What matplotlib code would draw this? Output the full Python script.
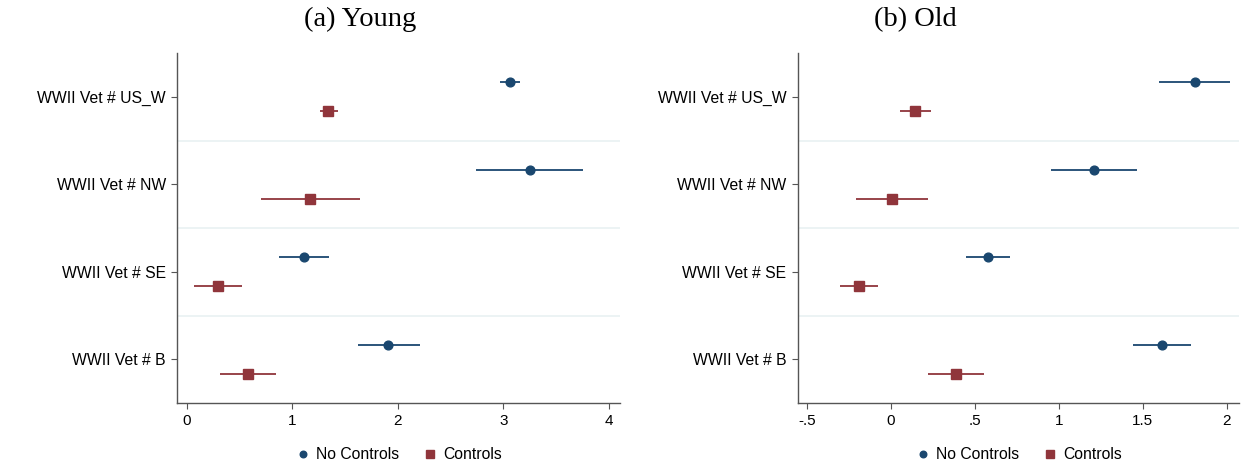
import matplotlib.pyplot as plt
import numpy as np

# coefficient estimates with 95% CI, categories top to bottom
labels = ["WWII Vet # US_W", "WWII Vet # NW", "WWII Vet # SE", "WWII Vet # B"]

young_nc = [3.06, 3.25, 1.11, 1.91]
young_nc_lo = [2.97, 2.74, 0.87, 1.62]
young_nc_hi = [3.16, 3.76, 1.35, 2.21]
young_c = [1.34, 1.17, 0.29, 0.58]
young_c_lo = [1.26, 0.70, 0.07, 0.31]
young_c_hi = [1.43, 1.64, 0.52, 0.84]

old_nc = [1.81, 1.21, 0.58, 1.615]
old_nc_lo = [1.60, 0.955, 0.447, 1.44]
old_nc_hi = [2.02, 1.465, 0.711, 1.79]
old_c = [0.145, 0.005, -0.19, 0.387]
old_c_lo = [0.053, -0.21, -0.305, 0.218]
old_c_hi = [0.24, 0.22, -0.077, 0.554]

young_ticks = [0, 1, 2, 3, 4]
young_ticklabels = ["0", "1", "2", "3", "4"]
old_ticks = [-0.5, 0, 0.5, 1, 1.5, 2]
old_ticklabels = ["-.5", "0", ".5", "1", "1.5", "2"]

blue = "#1a476f"
red = "#90353b"
sep_col = "#eaf2f3"
off = 0.167

plt.rcParams["font.family"] = ["Liberation Sans", "DejaVu Sans"]

fig = plt.figure(figsize=(12.52, 4.66), dpi=100)
ax1 = fig.add_axes([0.1414, 0.135, 0.354, 0.751])
ax2 = fig.add_axes([0.637, 0.135, 0.353, 0.751])


def panel(ax, nc, nc_lo, nc_hi, c, c_lo, c_hi, xlim, ticks, ticklabels):
    pos = np.arange(1, len(labels) + 1)
    for k in range(len(labels) - 1):
        ax.axhline(pos[k] + 0.5, color=sep_col, lw=1.3, zorder=0)
    nc = np.array(nc); c = np.array(c)
    ax.hlines(pos - off, nc_lo, nc_hi, color=blue, lw=1.3)
    ax.plot(nc, pos - off, "o", color=blue, ms=6.3, label="No Controls")
    ax.hlines(pos + off, c_lo, c_hi, color=red, lw=1.3)
    ax.plot(c, pos + off, "s", color=red, ms=7.5, label="Controls")
    ax.set_ylim(4.5, 0.5)
    ax.set_xlim(*xlim)
    ax.set_yticks(pos)
    ax.set_yticklabels(labels, fontsize=11.3)
    ax.set_xticks(ticks)
    ax.set_xticklabels(ticklabels, fontsize=11)
    for s in ["top", "right"]:
        ax.spines[s].set_visible(False)
    for s in ["left", "bottom"]:
        ax.spines[s].set_color("#555555")
        ax.spines[s].set_linewidth(1.0)
    ax.tick_params(direction="out", length=4, color="#555555", pad=4)
    ax.legend(loc="center", bbox_to_anchor=(0.5, -0.148), ncol=2, frameon=False,
              fontsize=11.3, handlelength=1.0, handletextpad=0.3, columnspacing=1.5,
              markerscale=0.75)


panel(ax1, young_nc, young_nc_lo, young_nc_hi, young_c, young_c_lo, young_c_hi,
      (-0.094, 4.11), young_ticks, young_ticklabels)
panel(ax2, old_nc, old_nc_lo, old_nc_hi, old_c, old_c_lo, old_c_hi,
      (-0.558, 2.077), old_ticks, old_ticklabels)

fig.text(0.2875, 0.958, "(a) Young", ha="center", va="center", fontsize=20.5,
         family=["Liberation Serif", "DejaVu Serif"])
fig.text(0.731, 0.958, "(b) Old", ha="center", va="center", fontsize=20.5,
         family=["Liberation Serif", "DejaVu Serif"])

fig.savefig("out.png", dpi=100)
